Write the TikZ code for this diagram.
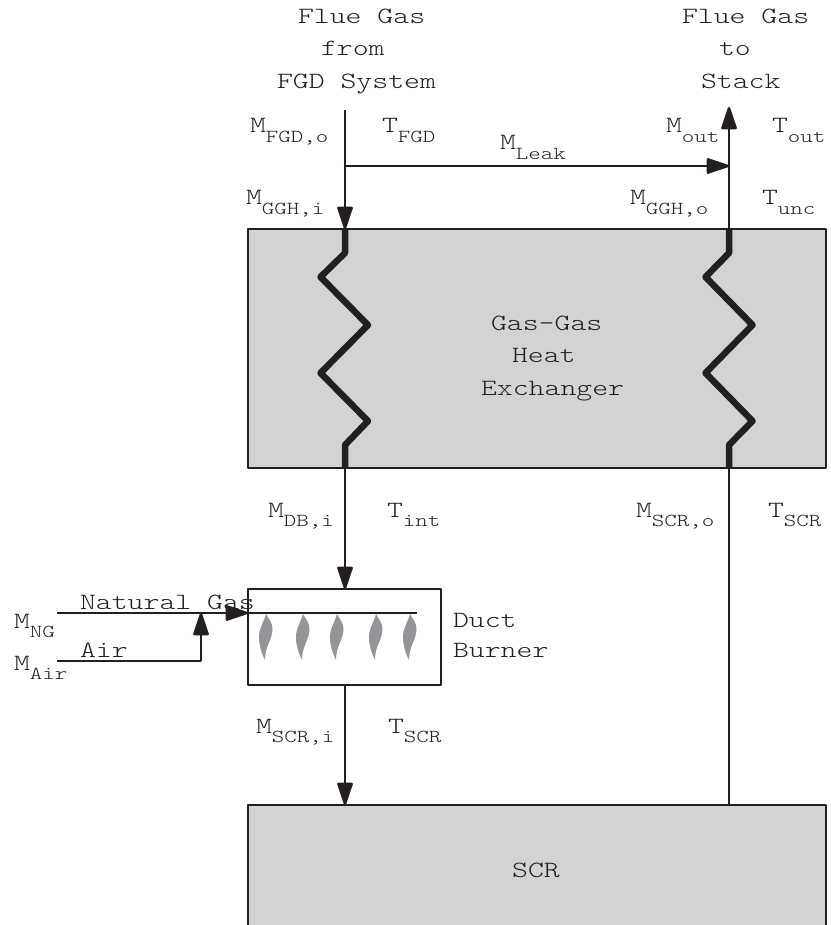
\documentclass[tikz,border=0pt]{standalone}
\usepackage{fontspec}
\setmonofont[FakeStretch=1.3]{Latin Modern Mono Light}
\usetikzlibrary{arrows.meta}
\definecolor{boxgray}{RGB}{209,211,212}
\definecolor{flame}{RGB}{147,149,152}
\definecolor{ink}{RGB}{35,31,32}
\newcommand{\mylab}[2]{#1\raisebox{-9.5pt}{\fontsize{18.3}{22}\selectfont #2}}
\tikzset{
  x=1pt,y=-1pt,
  every node/.style={font=\ttfamily\fontsize{23.3}{32.5}\selectfont,text=ink,inner sep=0pt,outer sep=0pt},
  lbl/.style={anchor=base west},
  multi/.style={align=left,anchor=north west},
  box/.style={draw=ink,line width=2.4pt,line join=round},
  flow/.style={draw=ink,line width=2.4pt},
  tip/.style={-{Triangle[length=25pt,width=16pt,round]}},
  coil/.style={draw=ink,line width=6.5pt,line join=round},
  flamefill/.style={fill=flame,draw=none}
}
\begin{document}
\begin{tikzpicture}
\useasboundingbox (0,0) rectangle (830,925);
\node[box,fill=boxgray,minimum width=578pt,minimum height=239pt,anchor=north west] (ggh) at (248,229) {};
\node[box,minimum width=193pt,minimum height=96pt,anchor=north west] (burner) at (248,589) {};
\node[box,fill=boxgray,minimum width=578pt,minimum height=122pt,anchor=north west] (scr) at (248,805) {};
\coordinate (in) at (345,110);
\coordinate (jl) at (345,166);
\coordinate (jr) at (729,166);
\coordinate (out) at (729,107);
\coordinate (lt) at (345,229);
\coordinate (rt) at (729,229);
\coordinate (lb) at (345,468);
\coordinate (rb) at (729,468);
\coordinate (bt) at (345,589);
\coordinate (bb) at (345,685);
\coordinate (st) at (345,805);
\coordinate (sr) at (729,805);
\coordinate (ng) at (57,613);
\coordinate (ngend) at (248,613);
\coordinate (airs) at (57,661);
\coordinate (airc) at (201,661);
\coordinate (airt) at (201,613);
\coordinate (barE) at (417,613);
\draw[flow,tip] (in) -- (lt);
\draw[flow,tip] (jl) -- (jr);
\draw[flow,tip] (rt) -- (out);
\draw[coil] (lt) -- (345,253) -- (320.5,277) -- (368,325) -- (320.5,373) -- (368,421) -- (345,445) -- (lb);
\draw[coil] (rt) -- (729,253) -- (705.5,277) -- (752.5,325) -- (705.5,373) -- (752.5,421) -- (729,445) -- (rb);
\draw[flow,tip] (lb) -- (bt);
\draw[flow] (rb) -- (sr);
\draw[flow,tip] (bb) -- (st);
\draw[flow] (ng) -- (barE);
\draw[flow,tip] (ng) -- (ngend);
\draw[flow] (airs) -- (airc);
\draw[flow,tip] (airc) -- (airt);
\foreach \x in {266,303,337,376,410}{
  \fill[flamefill] (\x,614) .. controls (\x+3,620) and (\x+7,623) .. (\x+6.5,630)
    .. controls (\x+6,640) and (\x-1,646) .. (\x-1,660)
    .. controls (\x-5,652) and (\x-7,645) .. (\x-7,637)
    .. controls (\x-7,628) and (\x-2,622) .. (\x,614) -- cycle;
}
\node[multi] (t1) at (277,9) {\hspace*{21pt}Flue Gas\\\hspace*{44pt}from\\FGD System};
\node[multi] (t2) at (682,9) {Flue Gas\\\hspace*{37pt}to\\\hspace*{19pt}Stack};
\node[multi] (t3) at (481,316) {\hspace*{10pt}Gas-Gas\\\hspace*{31pt}Heat\\Exchanger};
\node[multi,font=\ttfamily\fontsize{23.3}{30}\selectfont] (t4) at (453,613) {Duct\\Burner};
\node (t5) at (536,870) {SCR};
\node[lbl] (a1) at (250,133) {\mylab{M}{FGD,o}};
\node[lbl] (a2) at (382,133) {\mylab{T}{FGD}};
\node[lbl] (a3) at (500,150) {\mylab{M}{Leak}};
\node[lbl] (a4) at (246,205) {\mylab{M}{GGH,i}};
\node[lbl] (a5) at (666,133) {\mylab{M}{out}};
\node[lbl] (a6) at (772,133) {\mylab{T}{out}};
\node[lbl] (a7) at (630,205) {\mylab{M}{GGH,o}};
\node[lbl] (a8) at (762,205) {\mylab{T}{unc}};
\node[lbl] (a9) at (268,517) {\mylab{M}{DB,i}};
\node[lbl] (a10) at (387,517) {\mylab{T}{int}};
\node[lbl] (a11) at (636,517) {\mylab{M}{SCR,o}};
\node[lbl] (a12) at (768,517) {\mylab{T}{SCR}};
\node[lbl] (a13) at (256,733) {\mylab{M}{SCR,i}};
\node[lbl] (a14) at (388,733) {\mylab{T}{SCR}};
\node[lbl] (a15) at (14,628) {\mylab{M}{NG}};
\node[lbl] (a16) at (14,670) {\mylab{M}{Air}};
\node[lbl] (a17) at (80,609) {Natural Gas};
\node[lbl] (a18) at (80,657) {Air};
\end{tikzpicture}
\end{document}
